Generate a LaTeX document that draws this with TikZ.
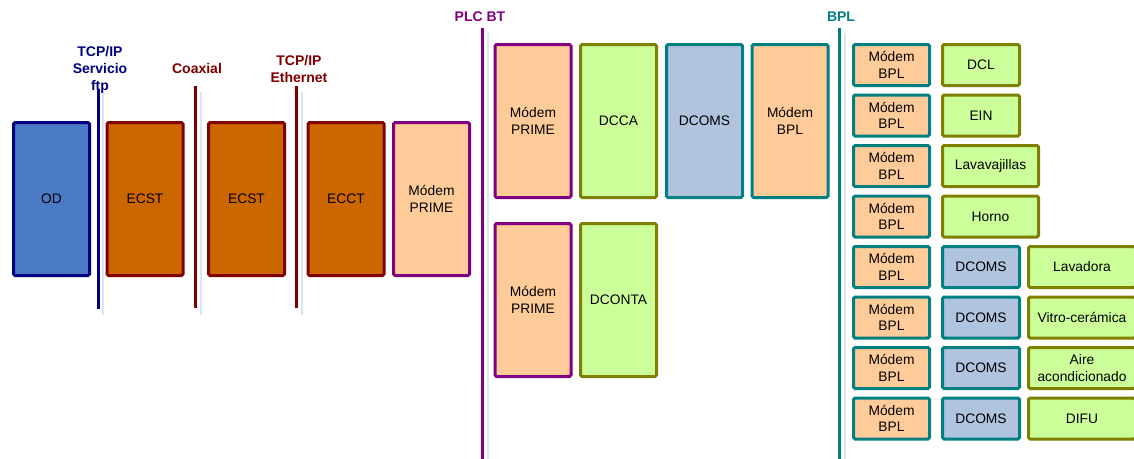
\documentclass[tikz,border=0pt]{standalone}
\usepackage{fontspec}
\setmainfont{Liberation Sans}
\definecolor{navy}{HTML}{000080}
\definecolor{dred}{HTML}{800000}
\definecolor{purp}{HTML}{800080}
\definecolor{teal2}{HTML}{008080}
\definecolor{olive2}{HTML}{808000}
\definecolor{odfill}{HTML}{4A7BC4}
\definecolor{orfill}{HTML}{CC6600}
\definecolor{peach}{HTML}{FFCC99}
\definecolor{lgreen}{HTML}{CCFF99}
\definecolor{lblue}{HTML}{B0C4E0}
\definecolor{pale}{HTML}{DCE6F2}
\tikzset{
  bx/.style={rectangle, rounded corners=1.5pt, line width=3pt, inner sep=0pt, align=center,
             font=\fontsize{13.8}{16.5}\selectfont, text=black},
  tall/.style={bx, minimum width=76pt, minimum height=153pt},
  small/.style={bx, minimum width=76pt, minimum height=41pt},
  odbox/.style={draw=navy, fill=odfill},
  orbox/.style={draw=dred, fill=orfill},
  pribox/.style={draw=purp, fill=peach},
  bplbox/.style={draw=teal2, fill=peach},
  grbox/.style={draw=olive2, fill=lgreen},
  blbox/.style={draw=teal2, fill=lblue},
  sep/.style={line width=3pt},
  shadow/.style={line width=2.5pt, draw=pale},
  lbl/.style={font=\bfseries\fontsize{14}{16.8}\selectfont, align=center, inner sep=0pt},
}
\begin{document}
\begin{tikzpicture}[x=1pt,y=-1pt]
\useasboundingbox[clip] (0,0) rectangle (1134,458);
% separators
\draw[shadow] (103,92) -- (103,315);
\draw[sep, navy] (98,89) -- (98,309);
\draw[shadow] (201,92) -- (201,315);
\draw[sep, dred] (195,86) -- (195,308);
\draw[shadow] (302,92) -- (302,315);
\draw[sep, dred] (296,86) -- (296,308);
\draw[shadow] (488,33) -- (488,460);
\draw[sep, purp] (482,28) -- (482,460);
\draw[shadow] (845,33) -- (845,460);
\draw[sep, teal2] (839,28) -- (839,460);
% labels
\node[lbl, text=navy] (ltcp) at (100,70) {TCP/IP\\Servicio\\ftp};
\node[lbl, text=dred] (lcoax) at (197,68) {Coaxial};
\node[lbl, text=dred] (leth) at (299,69) {TCP/IP\\Ethernet};
\node[lbl, text=purp] (lplc) at (480,17) {PLC BT};
\node[lbl, text=teal2] (lbpl) at (841,17) {BPL};
% left chain
\node[tall, odbox] (od) at (51.5,199) {OD};
\node[tall, orbox] (ecst1) at (145,199) {ECST};
\node[tall, orbox] (ecst2) at (246.5,199) {ECST};
\node[tall, orbox] (ecct) at (346,199) {ECCT};
\node[tall, pribox] (prime0) at (431.5,199) {Módem\\PRIME};
% PLC BT
\node[tall, pribox] (prime1) at (533,121) {Módem\\PRIME};
\node[tall, grbox] (dcca) at (618.5,121) {DCCA};
\node[tall, blbox] (dcoms0) at (704.5,121) {DCOMS};
\node[tall, bplbox] (bpl0) at (790,121) {Módem\\BPL};
\node[tall, pribox] (prime2) at (533,300) {Módem\\PRIME};
\node[tall, grbox] (dconta) at (618.5,300) {DCONTA};
% BPL column
\foreach \i/\y in {1/65,2/115.5,3/166,4/216.5,5/267,6/317.5,7/368,8/418.5}{
  \node[small, bplbox] (bpl\i) at (891.5,\y) {Módem\\BPL};
}
\node[small, grbox, minimum width=77pt] (dcl) at (981,65) {DCL};
\node[small, grbox, minimum width=77pt] (ein) at (981,115.5) {EIN};
\node[small, grbox, minimum width=96pt] (lava) at (990.5,166) {Lavavajillas};
\node[small, grbox, minimum width=96pt] (horno) at (990.5,216.5) {Horno};
\foreach \i/\y in {5/267,6/317.5,7/368,8/418.5}{
  \node[small, blbox, minimum width=77pt] (dcoms\i) at (981,\y) {DCOMS};
}
\node[small, grbox, minimum width=107pt] (lavad) at (1082,267) {Lavadora};
\node[small, grbox, minimum width=107pt] (vitro) at (1082,317.5) {Vitro-cerámica};
\node[small, grbox, minimum width=107pt] (aire) at (1082,368) {Aire\\acondicionado};
\node[small, grbox, minimum width=107pt] (difu) at (1082,418.5) {DIFU};
\end{tikzpicture}
\end{document}
